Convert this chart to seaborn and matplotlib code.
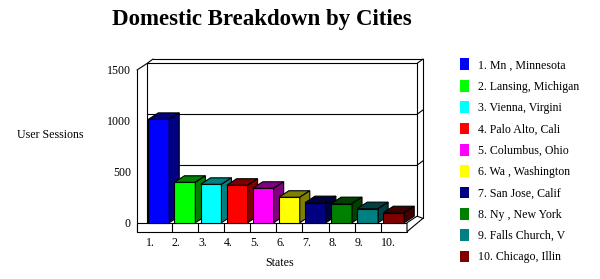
import numpy as np
import pandas as pd
import matplotlib
matplotlib.use("Agg")
import matplotlib.pyplot as plt
import seaborn as sns
from matplotlib.patches import Patch, Polygon, Rectangle
from matplotlib.transforms import ScaledTranslation

# ---- data ----
tick_labels = ["1.", "2.", "3.", "4.", "5.", "6.", "7.", "8.", "9.", "10."]
cities = ["1. Mn , Minnesota", "2. Lansing, Michigan", "3. Vienna, Virgini",
          "4. Palo Alto, Cali", "5. Columbus, Ohio", "6. Wa , Washington",
          "7. San Jose, Calif", "8. Ny , New York", "9. Falls Church, V",
          "10. Chicago, Illin"]
sessions = [1015, 397, 377, 368, 338, 250, 197, 187, 138, 98]
y_ticks = [0, 500, 1000, 1500]

front_colors = ["#0000FF", "#00FF00", "#00FFFF", "#FF0000", "#FF00FF",
                "#FFFF00", "#000080", "#008000", "#008080", "#800000"]
shade_colors = ["#000080", "#008000", "#008080", "#800000", "#800080",
                "#808000", "#000040", "#004000", "#004040", "#400000"]

sns.set_style("white")
plt.rcParams["font.family"] = ["Liberation Serif", "DejaVu Serif"]
for k in ["text.color", "axes.labelcolor", "xtick.color", "ytick.color"]:
    plt.rcParams[k] = "black"

W, H = 600, 279
fig = plt.figure(figsize=(W / 100, H / 100), dpi=100)
fig.patch.set_facecolor("white")

L, R, T, B = 137, 407, 70, 231.7
ax = fig.add_axes([L / W, 1 - B / H, (R - L) / W, (B - T) / H])
ax.patch.set_alpha(0)

df = pd.DataFrame({"state": tick_labels, "sessions": sessions})
sns.barplot(data=df, x="state", y="sessions", hue="state", order=tick_labels,
            hue_order=tick_labels, palette=front_colors, saturation=1,
            width=0.8, edgecolor="black", linewidth=0.8, legend=False, ax=ax)

xl, xr = -0.835, 9.506
ymin, ymax = -88.5, 1500
ax.set_xlim(xl, xr)
ax.set_ylim(ymin, ymax)
for s in ax.spines.values():
    s.set_visible(False)
ax.grid(False)

ax.set_yticks(y_ticks)
ax.set_yticklabels([str(v) for v in y_ticks])
ax.tick_params(axis="y", length=0, labelsize=8.6, pad=4.5, labelcolor="black")
ax.tick_params(axis="x", length=0, labelsize=8.6, pad=3.5, labelcolor="black")
for lbl in ax.get_xticklabels():
    lbl.set_ha("left")
    lbl.set_transform(lbl.get_transform() + ScaledTranslation(-13 / 100, 0, fig.dpi_scale_trans))

ax.set_xlabel("States", fontsize=8.6, color="black")
ax.xaxis.set_label_coords((280 - L) / (R - L), (B - 263) / (B - T))
ax.xaxis.label.set_va("center")
ax.set_ylabel("User Sessions", rotation=0, fontsize=8.6, color="black")
ax.yaxis.set_label_coords((50.5 - L) / (R - L), (B - 135.5) / (B - T))
ax.yaxis.label.set_ha("center")
ax.yaxis.label.set_va("center")

# pixel -> data conversions for the 3D depth effect
p0 = ax.transData.transform((0, 0))
px_x = ax.transData.transform((1, 0))[0] - p0[0]
px_y = ax.transData.transform((0, 1))[1] - p0[1]
ddx, ddy = 10 / px_x, 6.5 / px_y
e2x, e2y = 6 / px_x, 4.5 / px_y

lk = dict(color="black", lw=0.8, clip_on=False, zorder=1)

# floor front face and ticks
ax.add_patch(Rectangle((xl, ymin), xr - xl, -ymin, facecolor="white",
                       edgecolor="black", lw=0.8, clip_on=False, zorder=2))
for i in range(len(tick_labels) - 1):
    ax.plot([i + 0.5, i + 0.5], [ymin, 0], **{**lk, "zorder": 2.5})
# floor right side
ax.add_patch(Polygon([(xr, 0), (xr + ddx, ddy), (xr + ddx + e2x, 43), (xr, ymin)],
                     closed=True, facecolor="white", edgecolor="black", lw=0.8,
                     clip_on=False, zorder=2))

# front axis line
ax.plot([xl, xl], [ymin, ymax], **lk)
# back wall
ax.plot([xl + ddx, xl + ddx], [0, ymax + ddy], **lk)
ax.plot([xr + ddx, xr + ddx], [ddy, ymax + ddy], **lk)
for v in y_ticks[1:]:
    ax.plot([xl + ddx, xr + ddx], [v + ddy, v + ddy], **lk)
    ax.plot([xr + ddx, xr + ddx + e2x], [v + ddy, v + ddy + e2y], **lk)
ax.plot([xl + ddx + e2x, xr + ddx + e2x], [ymax + ddy + e2y] * 2, **lk)
ax.plot([xr + ddx + e2x, xr + ddx + e2x], [43, ymax + ddy + e2y], **lk)
ax.plot([xl, xl + ddx, xl + ddx + e2x], [ymax, ymax + ddy, ymax + ddy + e2y], **lk)

# 3D faces for bars
bars = sorted([p for c in ax.containers for p in c], key=lambda p: p.get_x())
for i, p in enumerate(bars):
    p.set_zorder(5 + 2 * i)
    x0, w, h = p.get_x(), p.get_width(), p.get_height()
    x1 = x0 + w
    top = Polygon([(x0, h), (x1, h), (x1 + ddx, h + ddy), (x0 + ddx, h + ddy)],
                  closed=True, facecolor=shade_colors[i], edgecolor="black",
                  lw=0.8, zorder=6 + 2 * i, clip_on=False)
    side = Polygon([(x1, 0), (x1, h), (x1 + ddx, h + ddy), (x1 + ddx, ddy)],
                   closed=True, facecolor=shade_colors[i], edgecolor="black",
                   lw=0.8, zorder=6 + 2 * i, clip_on=False)
    ax.add_patch(top)
    ax.add_patch(side)

# legend
handles = [Patch(facecolor=c, edgecolor="none") for c in front_colors]
leg = fig.legend(handles, cities, loc="upper left", bbox_to_anchor=(460 / W, 1 - 58.5 / H),
                 frameon=False, borderpad=0, borderaxespad=0, handlelength=0.75,
                 handleheight=1.15, handletextpad=0.75, labelspacing=0.7, fontsize=8.6)
for t in leg.get_texts():
    t.set_color("black")

fig.text(262 / W, 1 - 20 / H, "Domestic Breakdown by Cities", ha="center",
         va="center", fontsize=16.5, fontweight="bold", color="black")

fig.savefig("out.png", dpi=100, facecolor="white")
